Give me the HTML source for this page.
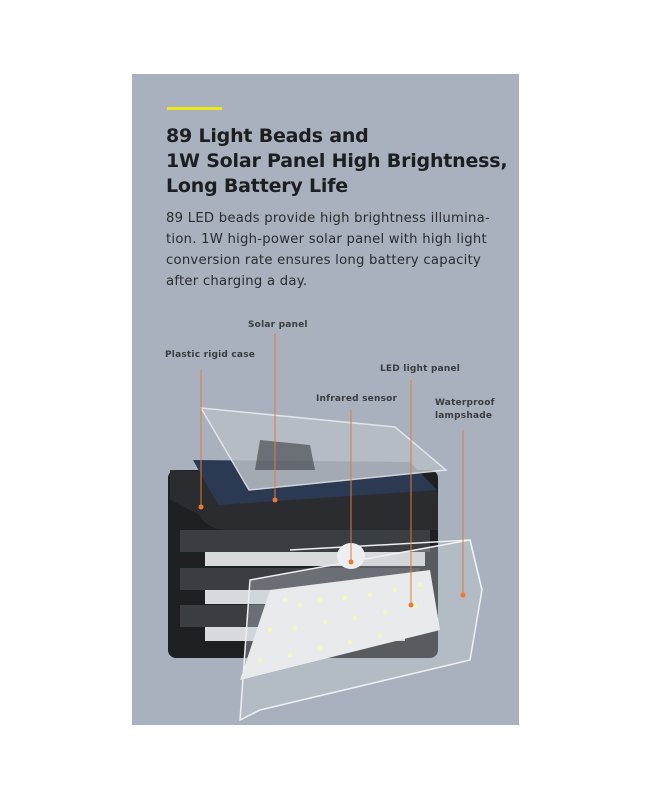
<!DOCTYPE html>
<html><head><style>
body{margin:0;width:652px;height:800px;background:#fff;position:relative;overflow:hidden;font-family:"DejaVu Sans","Liberation Sans",sans-serif}
.p{position:absolute;left:132px;top:74px;width:387px;height:651px;background:#a8b1bd}
.bar{position:absolute;left:167px;top:107px;width:55px;height:3px;background:#e8e81c}
h1{position:absolute;left:166px;top:124px;margin:0;font-size:19px;line-height:25px;font-weight:bold;color:#1c1e22;letter-spacing:-0.2px}
.b{position:absolute;left:166px;top:208px;font-size:13.2px;line-height:21px;color:#2a2c30;letter-spacing:0.25px;width:340px}
.l{position:absolute;font-size:9px;color:#3a3c40;font-weight:bold;letter-spacing:0.2px;line-height:13px}
</style></head><body>
<div class="p"></div>
<div class="bar"></div>
<h1>89 Light Beads and<br>1W Solar Panel High Brightness,<br>Long Battery Life</h1>
<div class="b">89 LED beads provide high brightness illumina-<br>tion. 1W high-power solar panel with high light<br>conversion rate ensures long battery capacity<br>after charging a day.</div>
<svg style="position:absolute;left:0;top:0" width="652" height="800">
<rect x="168" y="470" width="270" height="188" rx="8" fill="#1d1f22"/>
<g fill="#3a3d42"><rect x="180" y="530" width="250" height="22"/><rect x="180" y="568" width="240" height="22"/><rect x="180" y="605" width="230" height="22"/></g>
<g fill="#d8dade"><rect x="205" y="552" width="220" height="14"/><rect x="205" y="590" width="210" height="14"/><rect x="205" y="627" width="200" height="14"/></g>
<path d="M170 470 L425 480 Q438 485 438 500 L438 530 L225 530 Q205 528 200 515 L170 500Z" fill="#2a2c30"/>
<path d="M193 460 L410 462 L437 490 L218 505Z" fill="#2b3a52"/>
<path d="M201 408 L395 427 L446 470 L249 490Z" fill="#b8bec6" stroke="#eceff2" stroke-width="1.5" opacity="0.85"/>
<path d="M260 440 L310 445 L315 470 L255 470Z" fill="#3a3e45" opacity="0.6"/>
<path d="M240 720 L250 580 L470 540 L482 590 L470 660 L260 710Z" fill="#c9ced5" fill-opacity="0.35" stroke="#eef0f2" stroke-width="1.5"/>
<path d="M290 550 L470 540 L482 590" fill="none" stroke="#eef0f2" stroke-width="1.5"/>
<path d="M240 680 L270 590 L430 570 L440 630 L280 670Z" fill="#e8eaec"/>
<g fill="#f4f6c8">
<circle cx="285" cy="600" r="2.5"/><circle cx="300" cy="605" r="2.5"/><circle cx="320" cy="600" r="2.5"/><circle cx="345" cy="598" r="2.5"/><circle cx="370" cy="595" r="2.5"/><circle cx="395" cy="590" r="2.5"/><circle cx="420" cy="585" r="2.5"/>
<circle cx="270" cy="630" r="2.5"/><circle cx="295" cy="628" r="2.5"/><circle cx="325" cy="622" r="2.5"/><circle cx="355" cy="618" r="2.5"/><circle cx="385" cy="612" r="2.5"/><circle cx="415" cy="606" r="2.5"/>
<circle cx="260" cy="660" r="2.5"/><circle cx="290" cy="655" r="2.5"/><circle cx="320" cy="648" r="2.5"/><circle cx="350" cy="642" r="2.5"/><circle cx="380" cy="636" r="2.5"/>
</g>
<ellipse cx="351" cy="556" rx="14" ry="13" fill="#eceef0"/>
<g stroke="#e07a3c" stroke-width="1"><line x1="201" y1="370" x2="201" y2="507"/><line x1="275" y1="333" x2="275" y2="500"/><line x1="351" y1="410" x2="351" y2="562"/><line x1="411" y1="380" x2="411" y2="605"/><line x1="463" y1="430" x2="463" y2="595"/></g>
<g fill="#f0782c"><circle cx="201" cy="507" r="2.5"/><circle cx="275" cy="500" r="2.5"/><circle cx="351" cy="562" r="2.5"/><circle cx="411" cy="605" r="2.5"/><circle cx="463" cy="595" r="2.5"/></g>
</svg>
<div class="l" style="left:248px;top:319px">Solar panel</div>
<div class="l" style="left:165px;top:349px">Plastic rigid case</div>
<div class="l" style="left:380px;top:363px">LED light panel</div>
<div class="l" style="left:316px;top:393px">Infrared sensor</div>
<div class="l" style="left:435px;top:397px">Waterproof<br>lampshade</div>
</body></html>
